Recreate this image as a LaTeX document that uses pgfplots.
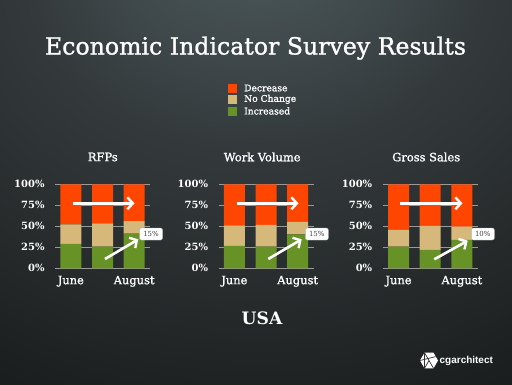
\documentclass[border=0pt]{standalone}
\usepackage{pgfplots}
\usepackage{pgfplotstable}
\pgfplotsset{compat=1.18}
\usetikzlibrary{arrows.meta}
\usepackage{fontspec}
\setmainfont{DejaVu Serif}
\setsansfont{Liberation Sans}
\newfontfamily\medfont{DejaVu Serif}[FakeBold=1.2]
\newfontfamily\heavyfont{DejaVu Serif Bold}
\definecolor{dec}{RGB}{255,70,0}
\definecolor{noc}{RGB}{214,184,122}
\definecolor{inc}{RGB}{102,146,38}
\definecolor{bgA}{RGB}{80,94,98}
\definecolor{bgB}{RGB}{52,58,60}
\definecolor{bgC}{RGB}{28,31,32}
\definecolor{bgD}{RGB}{10,10,10}
\pgfdeclareradialshading{bgshade}{\pgfpoint{0bp}{36bp}}{color(0bp)=(bgA); color(22bp)=(bgB); color(48bp)=(bgC); color(75bp)=(bgD); color(100bp)=(bgD)}

\pgfplotstableread{
x inc noc dec
0 29.0 23.4 47.6
1 25.8 27.8 46.4
2 41.3 15.0 43.7
}\rfps
\pgfplotstableread{
x inc noc dec
0 26.6 24.6 48.8
1 25.8 25.8 48.4
2 40.5 14.7 44.8
}\workvol
\pgfplotstableread{
x inc noc dec
0 25.8 20.2 54.0
1 21.8 28.6 49.6
2 33.7 15.9 50.4
}\grosssales

\pgfplotsset{panel/.style={
  scale only axis, width=95bp, height=84bp, anchor=south west,
  ybar stacked, bar width=21bp,
  xmin=-0.5, xmax=2.5, ymin=0, ymax=100,
  ytick={0,25,50,75,100},
  yticklabel={\pgfmathprintnumber{\tick}\%},
  /pgf/number format/assume math mode=true,
  xtick={0,2}, xticklabels={June,August},
  axis line style={draw=none},
  major tick length=0pt,
  ymajorgrids, grid style={line width=0.9pt, color=gray!80},
  yticklabel style={font=\heavyfont\fontsize{10}{11}\selectfont, text=white, xshift=-7bp},
  xticklabel style={font=\medfont\fontsize{11.5}{12}\selectfont, text=white, yshift=-4bp},
  clip=false,
}}
\tikzset{chalk/.style={white, line width=2.6bp, -{Straight Barb[length=5.5bp,width=12bp,line width=2.4bp]}},
  callout/.style={fill=white, draw=gray!60, rounded corners=2bp, inner sep=0pt, minimum width=23bp, minimum height=12bp, font=\fontsize{7}{7}\selectfont, text=black!75}}

\begin{document}
\begin{tikzpicture}[x=1bp,y=1bp]
\useasboundingbox (0,0) rectangle (512,384);
\shade[shading=bgshade] (0,0) rectangle (512,384);

% title
\node[anchor=base, text=white, inner sep=0pt] at (255.5,329.5) {\resizebox{421bp}{!}{\medfont Economic Indicator Survey Results}};

% legend
\fill[dec] (227.8,291.5) rectangle (236.8,300.5);
\fill[noc] (227.8,280.2) rectangle (236.8,289.2);
\fill[inc] (227.8,268.5) rectangle (236.8,277.5);
\node[anchor=west, text=white, inner sep=0pt, font=\medfont\fontsize{9.2}{10}\selectfont] at (244,296) {Decrease};
\node[anchor=west, text=white, inner sep=0pt, font=\medfont\fontsize{9.2}{10}\selectfont] at (244,284.7) {No Change};
\node[anchor=west, text=white, inner sep=0pt, font=\medfont\fontsize{9.2}{10}\selectfont] at (244,273) {Increased};

% panel titles
\node[text=white, font=\medfont\fontsize{11.5}{12}\selectfont] at (102.8,227) {RFPs};
\node[text=white, font=\medfont\fontsize{11.5}{12}\selectfont] at (262.2,227) {Work Volume};
\node[text=white, font=\medfont\fontsize{11.5}{12}\selectfont] at (426.2,227) {Gross Sales};

\begin{axis}[panel, at={(55bp,115.7bp)}]
\addplot[fill=inc, draw=none] table[x=x, y=inc] {\rfps};
\addplot[fill=noc, draw=none] table[x=x, y=noc] {\rfps};
\addplot[fill=dec, draw=none] table[x=x, y=dec] {\rfps};
\end{axis}
\begin{axis}[panel, at={(218.5bp,115.7bp)}]
\addplot[fill=inc, draw=none] table[x=x, y=inc] {\workvol};
\addplot[fill=noc, draw=none] table[x=x, y=noc] {\workvol};
\addplot[fill=dec, draw=none] table[x=x, y=dec] {\workvol};
\end{axis}
\begin{axis}[panel, at={(382.7bp,115.7bp)}]
\addplot[fill=inc, draw=none] table[x=x, y=inc] {\grosssales};
\addplot[fill=noc, draw=none] table[x=x, y=noc] {\grosssales};
\addplot[fill=dec, draw=none] table[x=x, y=dec] {\grosssales};
\end{axis}

% arrows
\draw[chalk] (72.7,180.7) -- (134.5,180.7);
\draw[chalk] (105,125) -- (138.3,144.7);
\node[callout] at (151,150) {15\%};
\draw[chalk] (236.7,180.7) -- (298.5,180.7);
\draw[chalk] (268.3,125) -- (301.7,144.7);
\node[callout] at (316.8,150) {15\%};
\draw[chalk] (400,180.7) -- (462.5,180.7);
\draw[chalk] (434.3,124.7) -- (467.7,143.3);
\node[callout] at (482.8,150) {10\%};

% footer
\node[anchor=base, text=white, inner sep=0pt, font=\heavyfont\fontsize{17.2}{18}\selectfont] at (262,59.7) {USA};

% logo
\begin{scope}[shift={(429,23.5)}]
\fill[white] (0:9) -- (60:9) -- (120:9) -- (180:9) -- (240:9) -- (300:9) -- cycle;
\draw[black!80, line width=0.7bp] (120:9) -- (-60:9) (180:9) -- (30:7.8) (240:9) -- (0,0) (120:9) -- (240:9);
\end{scope}
\node[anchor=west, text=white, inner sep=0pt, font=\sffamily\bfseries\fontsize{10}{10}\selectfont] at (439.5,23.5) {cgarchitect};
\end{tikzpicture}
\end{document}
